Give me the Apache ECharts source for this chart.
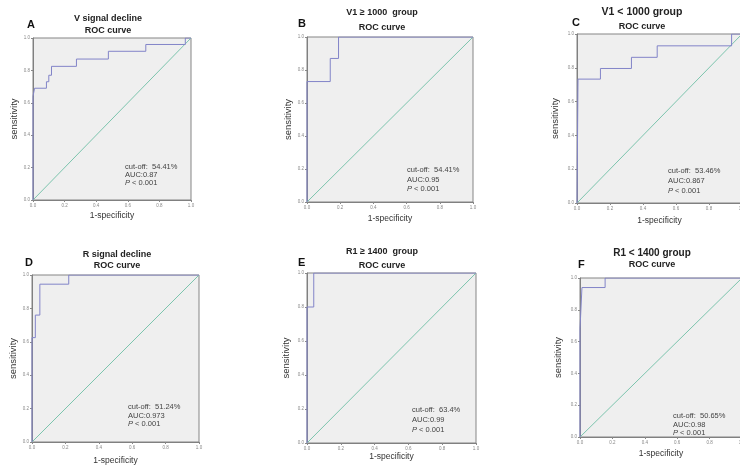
<!DOCTYPE html>
<html><head><meta charset="utf-8">
<script src="https://cdn.jsdelivr.net/npm/echarts@6/dist/echarts.min.js"></script>
<style>html,body{margin:0;padding:0;background:#fff}#c{width:740px;height:470px}</style>
</head><body><div id="c"></div>
<script>
// ---- data ----
const panelLetters = ['A', 'B', 'C', 'D', 'E', 'F'];
const mainTitles = ['V signal decline', 'V1 \u2265 1000  group', 'V1 < 1000 group', 'R signal decline', 'R1 \u2265 1400  group', 'R1 < 1400 group'];
const subTitle = 'ROC curve';
const xAxisName = '1-specificity';
const yAxisName = 'sensitivity';
const tickValues = [0.0, 0.2, 0.4, 0.6, 0.8, 1.0];
const cutoffs = ['54.41%', '54.41%', '53.46%', '51.24%', '63.4%', '50.65%'];
const aucs = ['0.87', '0.95', '0.867', '0.973', '0.99', '0.98'];
const pValue = '< 0.001';
const refLineX = [0, 1];
const refLineY = [0, 1];

const fprA = [0, 0, 0.01, 0.01, 0.085, 0.085, 0.10, 0.10, 0.117, 0.117, 0.275, 0.275, 0.477, 0.477, 0.714, 0.714, 0.964, 0.964, 1];
const tprA = [0, 0.64, 0.64, 0.69, 0.69, 0.73, 0.73, 0.77, 0.77, 0.825, 0.825, 0.87, 0.87, 0.918, 0.918, 0.96, 0.96, 1, 1];
const fprB = [0, 0, 0.14, 0.14, 0.19, 0.19, 1];
const tprB = [0, 0.73, 0.73, 0.87, 0.87, 1, 1];
const fprC = [0, 0.006, 0.006, 0.142, 0.142, 0.33, 0.33, 0.486, 0.486, 0.937, 0.937, 1];
const tprC = [0, 0, 0.733, 0.733, 0.796, 0.796, 0.862, 0.862, 0.93, 0.93, 1, 1];
const fprD = [0, 0, 0.02, 0.02, 0.047, 0.047, 0.22, 0.22, 1];
const tprD = [0, 0.625, 0.625, 0.76, 0.76, 0.945, 0.945, 1, 1];
const fprE = [0, 0, 0.04, 0.04, 1];
const tprE = [0, 0.8, 0.8, 1, 1];
const fprF = [0, 0, 0.012, 0.012, 0.155, 0.155, 1];
const tprF = [0, 0.68, 0.68, 0.94, 0.94, 1, 1];
const curvesX = [fprA, fprB, fprC, fprD, fprE, fprF];
const curvesY = [tprA, tprB, tprC, tprD, tprE, tprF];

// ---- layout (pixels) ----
const grids = [
  {left: 33, top: 38, width: 158, height: 162},
  {left: 307, top: 37, width: 166, height: 165},
  {left: 577, top: 34, width: 165, height: 169},
  {left: 32, top: 275, width: 167, height: 167},
  {left: 307, top: 273, width: 169, height: 170},
  {left: 580, top: 278, width: 162, height: 159}
];
const titlePos = [
  {cx: 108, y1: 19, y2: 31, lx: 27, ly: 25, f1: 9, f2: 9},
  {cx: 382, y1: 13, y2: 28, lx: 298, ly: 24, f1: 9, f2: 9},
  {cx: 642, y1: 12, y2: 27, lx: 572, ly: 23, f1: 10.5, f2: 9},
  {cx: 117, y1: 255, y2: 266, lx: 25, ly: 263, f1: 9, f2: 9},
  {cx: 382, y1: 252, y2: 266, lx: 298, ly: 263, f1: 9, f2: 9},
  {cx: 652, y1: 253, y2: 265, lx: 578, ly: 265, f1: 10, f2: 9}
];
const xNameGap = [11, 12, 13, 14, 8, 12];
const yNameGap = [14, 9, 17, 14, 16, 17];
const annPos = [
  {x: 125, y: 167, dy: 8},
  {x: 407, y: 170, dy: 9.5},
  {x: 668, y: 171, dy: 10},
  {x: 128, y: 407, dy: 8.5},
  {x: 412, y: 410, dy: 10},
  {x: 673, y: 416, dy: 8.5}
];

const ROC_COLOR = '#8284c8';
const REF_COLOR = '#7cc4ad';
const FONT = '"Liberation Sans", Arial, sans-serif';

const option = {
  backgroundColor: '#ffffff',
  animation: false,
  grid: [], xAxis: [], yAxis: [], series: [], graphic: []
};

const tickFmt = v => v.toFixed(1);

for (let i = 0; i < 6; i++) {
  const g = grids[i];
  option.grid.push(Object.assign({show: true, backgroundColor: '#efefef', borderColor: '#858585', borderWidth: 1, containLabel: false, outerBoundsMode: 'none'}, g));
  option.xAxis.push({
    type: 'value', gridIndex: i, min: tickValues[0], max: tickValues[tickValues.length - 1], interval: 0.2,
    name: xAxisName, nameLocation: 'middle', nameGap: xNameGap[i],
    nameTextStyle: {fontSize: 8.5, color: '#333', fontFamily: FONT},
    axisLine: {show: true, lineStyle: {color: '#808080', width: 1}},
    axisTick: {show: true, length: 2, lineStyle: {color: '#888'}},
    axisLabel: {fontSize: 4.5, color: '#888', margin: 3, formatter: tickFmt, fontFamily: FONT},
    splitLine: {show: false}
  });
  option.yAxis.push({
    type: 'value', gridIndex: i, min: tickValues[0], max: tickValues[tickValues.length - 1], interval: 0.2,
    name: yAxisName, nameLocation: 'middle', nameGap: yNameGap[i], nameRotate: 90,
    nameTextStyle: {fontSize: 9.5, color: '#333', fontFamily: FONT},
    axisLine: {show: true, lineStyle: {color: '#808080', width: 1}},
    axisTick: {show: true, length: 2, lineStyle: {color: '#888'}},
    axisLabel: {fontSize: 4.5, color: '#888', margin: 3, formatter: tickFmt, fontFamily: FONT},
    splitLine: {show: false}
  });
  option.series.push({
    type: 'line', xAxisIndex: i, yAxisIndex: i, symbol: 'none', silent: true,
    data: refLineX.map((x, k) => [x, refLineY[k]]),
    lineStyle: {color: REF_COLOR, width: 1}, z: 2
  });
  option.series.push({
    type: 'line', xAxisIndex: i, yAxisIndex: i, symbol: 'none', silent: true,
    data: curvesX[i].map((x, k) => [x, curvesY[i][k]]),
    lineStyle: {color: ROC_COLOR, width: 1}, z: 3
  });

  const t = titlePos[i];
  option.graphic.push({type: 'text', x: t.cx, y: t.y1, style: {text: mainTitles[i], fill: '#222', font: 'bold ' + t.f1 + 'px ' + FONT, textAlign: 'center', align: 'center', textVerticalAlign: 'middle', verticalAlign: 'middle'}});
  option.graphic.push({type: 'text', x: t.cx, y: t.y2, style: {text: subTitle, fill: '#222', font: 'bold ' + t.f2 + 'px ' + FONT, textAlign: 'center', align: 'center', textVerticalAlign: 'middle', verticalAlign: 'middle'}});
  option.graphic.push({type: 'text', x: t.lx, y: t.ly, style: {text: panelLetters[i], fill: '#111', font: 'bold 11px ' + FONT, textAlign: 'left', align: 'left', textVerticalAlign: 'middle', verticalAlign: 'middle'}});

  const a = annPos[i];
  const annStyle = {fill: '#444', font: '7.5px ' + FONT, textAlign: 'left', align: 'left', textVerticalAlign: 'middle', verticalAlign: 'middle'};
  option.graphic.push({type: 'text', x: a.x, y: a.y, style: Object.assign({text: 'cut-off:  ' + cutoffs[i]}, annStyle)});
  option.graphic.push({type: 'text', x: a.x, y: a.y + a.dy, style: Object.assign({text: 'AUC:' + aucs[i]}, annStyle)});
  option.graphic.push({type: 'text', x: a.x, y: a.y + 2 * a.dy, style: Object.assign({
    text: '{i|P} ' + pValue,
    fontSize: 7.5, fontFamily: FONT,
    rich: {i: {fontStyle: 'italic', fontSize: 7.5, fontFamily: FONT, fill: '#444'}}
  }, annStyle)});
}

const chart = echarts.init(document.getElementById('c'), null, {renderer: 'canvas'});
chart.setOption(option);
</script>
</body></html>
